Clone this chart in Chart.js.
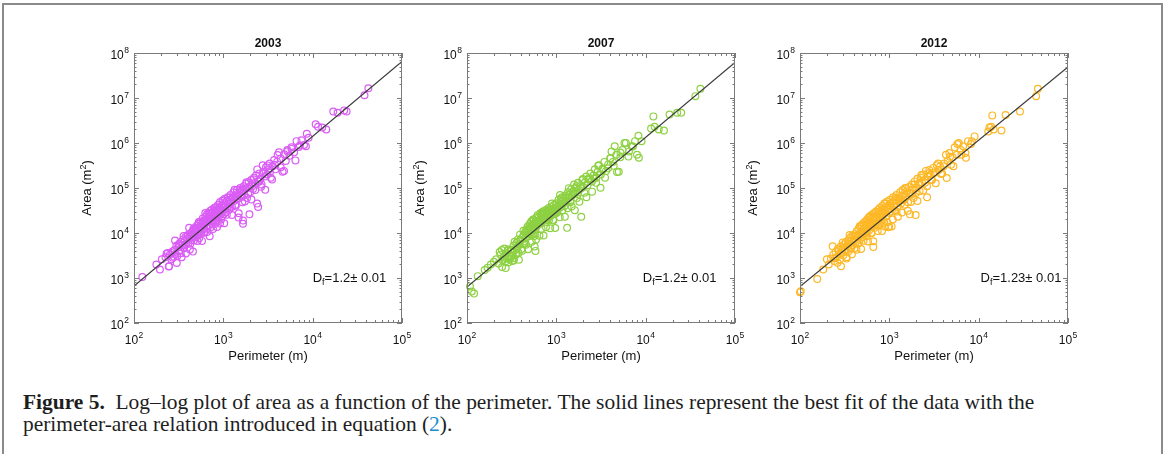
<!DOCTYPE html>
<html>
<head>
<meta charset="utf-8">
<script src="https://cdn.jsdelivr.net/npm/chart.js@4.4.1/dist/chart.umd.min.js"></script>
<style>
  body { margin: 0; background: #fff; width: 1165px; height: 454px; overflow: hidden; position: relative; }
  #frame { position: absolute; left: 2px; top: 3px; width: 1157px; height: 460px; border: 2px solid #8a8a8a; border-bottom: none; }
  canvas { position: absolute; top: 20px; }
  #caption { position: absolute; left: 23px; top: 391px; font-family: "Liberation Serif", "DejaVu Serif", serif; font-size: 17.5px; line-height: 22px; color: #1e1e1e; white-space: nowrap; }
  #caption b { font-weight: bold; }
  #caption .ref { color: #1a8ccf; }
</style>
</head>
<body>
<div id="frame"></div>
<canvas id="c2003" width="342" height="350" style="left:72px"></canvas>
<canvas id="c2007" width="342" height="350" style="left:405px"></canvas>
<canvas id="c2012" width="342" height="350" style="left:738px"></canvas>
<div id="caption"><span id="line1"><b>Figure 5.</b>&nbsp; Log–log plot of area as a function of the perimeter. The solid lines represent the best fit of the data with the</span><br>perimeter-area relation introduced in equation (<span class="ref">2</span>).</div>
<script>
// panel titles and fit labels
const years = ['2003', '2007', '2012'];
const dfLabels = ['1.2', '1.2', '1.23'];
const colors = ['#DA5CF5', '#8DD142', '#FDB827'];

// tick exponents (10^n)
const xTickExps = [2, 3, 4, 5];
const yTickExps = [2, 3, 4, 5, 6, 7, 8];

// [perimeter (m), area (m2)]
const pts2003 = [
  [124,1050],[178,2000],[195,1550],[205,2600],[225,2900],[240,3600],[245,1800],[252,3300],[262,2600],[270,3900],
  [278,3000],[285,4200],[290,3400],[298,5200],[305,3100],[312,4800],[320,5800],[328,4200],[335,6300],[342,2900],
  [350,5400],[355,7200],[362,4600],[370,6600],[378,8200],[385,5600],[392,7400],[400,9000],[408,6000],[415,8300],
  [422,4300],[430,9500],[438,7000],[445,10500],[452,8200],[460,12000],[468,6800],[475,9800],[482,13000],[490,8000],
  [498,11000],[505,14500],[512,9200],[520,12500],[528,16000],[535,7600],[542,11000],[550,14000],[558,18000],[565,10000],
  [572,13000],[580,16500],[588,21000],[595,12000],[602,15000],[610,19000],[618,10500],[625,17000],[632,23000],[640,14000],
  [648,19500],[655,26000],[662,12500],[670,17500],[678,22000],[685,28000],[692,15000],[700,20000],[708,31000],[715,24000],
  [722,13500],[730,18000],[738,27000],[745,33000],[752,21000],[760,15500],[768,25000],[775,30000],[782,19000],[790,36000],
  [798,24000],[805,28000],[812,16000],[820,32000],[828,22000],[835,38000],[842,27000],[850,19500],[858,30000],[865,25000],
  [872,42000],[880,34000],[888,23000],[895,29000],[905,36000],[915,48000],[925,27000],[935,32000],[945,20000],[955,40000],
  [965,30000],[975,52000],[985,36000],[1000,44000],[1010,26000],[1025,33000],[1040,58000],[1055,40000],[1070,29000],[1085,50000],
  [1100,36000],[1120,62000],[1140,45000],[1160,33000],[1180,55000],[1200,70000],[1225,48000],[1250,38000],[1275,62000],[1300,80000],
  [1330,52000],[1360,42000],[1390,72000],[1420,90000],[1450,58000],[1480,22000],[1510,78000],[1540,100000],[1570,65000],[1600,85000],
  [1630,48000],[1660,16000],[1660,19000],[1690,110000],[1720,72000],[1760,95000],[1800,125000],[1840,60000],[1880,100000],[1920,135000],
  [1960,26000],[2000,80000],[2050,150000],[2100,110000],[2150,95000],[2200,170000],[2260,130000],[2320,190000],[2390,45000],[2450,38000],
  [2460,140000],[2530,210000],[2600,160000],[2680,120000],[2760,320000],[2840,230000],[2920,180000],[3000,290000],[3100,200000],[3200,250000],
  [3300,350000],[3400,170000],[3550,300000],[3700,420000],[3850,260000],[4000,380000],[4200,620000],[4400,450000],[4600,230000],[4800,560000],
  [5000,400000],[5200,700000],[5500,520000],[5800,800000],[6200,620000],[6600,1100000],[7000,820000],[7500,1150000],[8000,900000],[8600,1600000],
  [9000,1300000],[10800,2600000],[11500,2300000],[12800,2200000],[14200,2000000],[17000,5000000],[19000,4700000],[22500,5300000],[24000,5000000],
  [38000,11500000],[42000,16500000]
];
const more2003 = [
  [232,3500],[247,1830],[263,3610],[271,2810],[288,6810],[301,2160],[316,5370],[333,3530],[341,5190],[359,8550],
  [372,5340],[381,3510],[397,8800],[414,13000],[428,5740],[439,8270],[457,3860],[466,12600],[483,8630],[499,11700],
  [514,6630],[531,17600],[546,9430],[559,13200],[577,6680],[593,17960],[611,10100],[628,27900],[647,14400],[661,10500],
  [683,20200],[704,8470],[719,27800],[741,18400],[766,12300],[779,23500],[803,36600],[829,18000],[851,13600],[877,33600],
  [896,33300],[918,16200],[947,30300],[971,23500],[996,53500],[1024,16500],[1061,40200],[1093,25400],[1127,37800],[1168,60700],
  [1203,37600],[1246,25100],[1288,62300],[1337,91400],[1381,40200],[1429,58800],[1487,27400],[1543,92200],[1611,64000],[1677,88100],
  [1742,50400],[1813,135000],[1897,74700],[1981,108000],[2064,55500],[2173,156000],[2281,90600],[2398,259000],[2512,137000],[2647,106000],
  [2788,210000],[2943,91400],[3121,318000],[3307,221000],[3512,154000],[3788,326000],[4047,538000],[4391,288000],[4778,240000],[5216,652000],
  [5790,740000],[6420,411000],[7200,883000],[8400,847000]
];
const pts2007 = [
  [108,650],[113,500],[120,450],[132,1100],[158,1500],[170,1700],[185,2000],[200,2300],[212,2600],[225,2100],
  [238,3300],[245,4200],[250,2500],[258,3000],[262,4500],[268,2300],[275,3600],[280,2700],[285,4000],[290,2200],
  [296,3200],[302,2600],[308,4300],[315,3000],[320,2400],[326,3700],[332,5200],[338,2800],[345,4200],[352,3300],
  [358,6000],[365,4600],[372,7200],[378,3600],[385,5600],[392,9200],[400,6800],[408,4400],[415,7800],[422,5800],
  [430,9000],[440,6500],[448,10500],[455,8000],[462,12000],[470,9500],[478,14000],[485,11000],[492,8500],[500,13000],
  [506,16000],[512,10000],[518,12500],[524,18000],[530,9000],[536,14500],[542,11500],[548,20000],[554,13000],[560,8500],
  [566,16000],[572,5000],[578,12000],[584,4000],[590,18500],[596,22000],[602,14000],[610,17000],[620,25000],[630,19000],
  [640,23000],[650,16000],[660,27000],[670,20000],[680,24000],[690,29000],[700,18500],[712,26000],[724,31000],[736,22000],
  [748,28000],[760,17500],[772,33000],[784,25000],[796,30000],[808,21000],[820,36000],[835,27000],[850,32000],[865,24000],
  [880,38000],[895,29000],[910,34000],[925,19000],[940,42000],[955,31000],[970,36000],[985,27000],[1000,46000],[1020,38000],
  [1040,33000],[1060,55000],[1080,43000],[1100,70000],[1120,38000],[1140,50000],[1160,62000],[1180,45000],[1200,58000],[1230,40000],
  [1260,68000],[1290,52000],[1320,13000],[1350,80000],[1380,60000],[1410,72000],[1440,48000],[1470,95000],[1500,68000],[1540,85000],
  [1580,120000],[1620,75000],[1660,100000],[1700,60000],[1750,130000],[1800,90000],[1850,110000],[1900,23000],[1950,150000],[2000,105000],
  [2080,130000],[2160,180000],[2240,115000],[2320,160000],[2400,210000],[2500,140000],[2600,190000],[2700,260000],[2800,170000],[2900,230000],
  [3000,320000],[3150,200000],[3300,270000],[3450,380000],[3600,240000],[3800,330000],[4000,450000],[4150,650000],[4300,380000],[4500,850000],
  [4700,550000],[5000,230000],[5200,480000],[5500,700000],[6000,1000000],[6500,650000],[7000,850000],[7600,1100000],[8000,550000],[8300,1450000],
  [9000,1100000],[11500,2100000],[12200,3900000],[12600,2300000],[14000,2000000],[16000,1900000],[18500,4300000],[22500,4700000],[25000,4700000],
  [36000,11000000],[41000,16000000]
];
const more2007 = [
  [232,3780],[247,1750],[263,2680],[271,1660],[288,4300],[301,2990],[316,4180],[333,2450],[341,6400],[359,3570],
  [372,5110],[381,2550],[397,7010],[414,4040],[428,11200],[439,5730],[457,5460],[466,10300],[483,4340],[499,14500],
  [514,9600],[531,6400],[546,12500],[559,19200],[577,9460],[593,7170],[611,17700],[628,17700],[647,8680],[661,16000],
  [683,12500],[704,28800],[719,8810],[741,21200],[766,13500],[779,19600],[803,31200],[829,19400],[851,12800],[877,31500],
  [896,45100],[918,19600],[947,28400],[971,12900],[996,42700],[1024,28900],[1061,39500],[1093,22300],[1127,58900],[1168,32000],
  [1203,45400],[1246,23000],[1288,62500],[1337,35700],[1381,99200],[1429,51400],[1487,38900],[1543,75300],[1611,32200],[1677,109000],
  [1742,73200],[1813,49400],[1897,99000],[1981,158000],[2064,78900],[2173,62300],[2281,158000],[2398,164000],[2512,83000],[2647,161000],
  [2788,130000],[2943,311000],[3121,101000],[3307,256000],[3512,170000],[3788,273000],[4047,461000],[4391,311000],[4778,226000],[5216,612000],
  [5790,1006000],[6420,498000],[7200,831000],[8400,469000]
];
const pts2012 = [
  [100,480],[102,510],[156,950],[182,1550],[200,2600],[210,2000],[222,2700],[235,3300],[242,2400],[250,3800],
  [258,2900],[265,4400],[272,3400],[280,2600],[286,5000],[293,3900],[300,4600],[306,3200],[312,5600],[318,4200],
  [325,6200],[332,2700],[338,5000],[345,6800],[352,4000],[358,5800],[365,7800],[372,4800],[378,6600],[385,8800],
  [392,5400],[400,7200],[408,4600],[415,9500],[422,6400],[430,11000],[438,8000],[445,5800],[452,12500],[460,9000],
  [468,7000],[475,13500],[482,10000],[490,15000],[498,8200],[505,11800],[512,16500],[520,9500],[528,13000],[535,18000],
  [542,11000],[550,14500],[558,8500],[565,20000],[572,12500],[580,16500],[588,22000],[595,11500],[602,15000],[610,24000],
  [618,13500],[625,18500],[632,10000],[640,21000],[648,26000],[655,15500],[662,4900],[670,19500],[678,28000],[685,13000],
  [692,23000],[700,17000],[710,30000],[720,21000],[730,26000],[740,14500],[750,33000],[760,19000],[770,24000],[780,36000],
  [790,22000],[800,28000],[810,17000],[820,32000],[830,40000],[840,25000],[850,20000],[860,35000],[870,29000],[880,45000],
  [890,14000],[900,31000],[915,38000],[930,24000],[945,50000],[960,33000],[975,13500],[990,42000],[1005,28000],[1020,55000],
  [1040,36000],[1060,14000],[1080,48000],[1100,62000],[1120,40000],[1140,32000],[1160,56000],[1180,45000],[1200,70000],[1230,38000],
  [1260,60000],[1290,50000],[1320,80000],[1350,45000],[1380,66000],[1410,90000],[1440,55000],[1470,75000],[1500,100000],[1540,65000],
  [1580,85000],[1620,48000],[1660,105000],[1700,26000],[1740,75000],[1780,120000],[1820,92000],[1870,60000],[1920,140000],[1970,25000],
  [2000,100000],[2060,160000],[2120,120000],[2180,85000],[2250,170000],[2320,130000],[2400,200000],[2480,150000],[2560,240000],[2640,110000],
  [2720,180000],[2800,250000],[2900,200000],[3000,150000],[3100,280000],[3250,220000],[3400,320000],[3550,250000],[3700,300000],[3900,210000],
  [4100,350000],[4300,550000],[4500,400000],[4700,600000],[4900,330000],[5100,480000],[5400,800000],[5700,550000],[6000,1000000],[6300,700000],
  [6700,850000],[7100,600000],[7600,1100000],[8200,950000],[9000,1400000],[12800,1800000],[13200,2200000],[13800,2300000],[14200,4100000],
  [14700,2000000],[18000,1900000],[20000,4200000],[29000,5000000],[44000,11000000],[46000,16000000]
];
const more2012 = [
  [232,5090],[247,2760],[263,2170],[271,4140],[288,1820],[301,6180],[316,4220],[333,2900],[341,5610],[359,9020],
  [372,4470],[381,3370],[397,8440],[414,8630],[428,4260],[439,7900],[457,6250],[466,14100],[483,4410],[499,10700],
  [514,6740],[531,10000],[546,15900],[559,9730],[577,6460],[593,15800],[611,22900],[628,10000],[647,14500],[661,6550],
  [683,21800],[704,14800],[719,19800],[741,11100],[766,29500],[779,15600],[803,22100],[829,11100],[851,29800],[877,16800],
  [896,45800],[918,23300],[947,17400],[971,32900],[996,13700],[1024,45200],[1061,30200],[1093,20000],[1127,39200],[1168,61400],
  [1203,30100],[1246,23100],[1288,57200],[1337,58000],[1381,28600],[1429,53800],[1487,42500],[1543,98800],[1611,31300],[1677,76500],
  [1742,49000],[1813,73900],[1897,120000],[1981,76100],[2064,51300],[2173,131000],[2281,195000],[2398,88400],[2512,131000],[2647,62500],
  [2788,215000],[2943,152000],[3121,215000],[3307,127000],[3512,351000],[3788,204000],[4047,306000],[4391,167000],[4778,493000],[5216,305000],
  [5790,952000],[6420,551000],[7200,470000],[8400,1100000]
];

// best fit lines, end points at the axis limits
const fit2003 = [[100, 660], [100000, 6.5e7]];
const fit2007 = [[100, 630], [100000, 6.2e7]];
const fit2012 = [[100, 650], [100000, 4.9e7]];

// where the D_f label sits (left edge, baseline) in data units
const dfPos = [[1.0e4, 800], [9.3e3, 800], [1.05e4, 800]];

const FONT = '"Liberation Sans", Arial, sans-serif';
const INK = '#111';
const AXIS = '#7a7a7a';

function powLabel(ctx, exp, x, y, align) {
  ctx.font = '12px ' + FONT;
  const w1 = ctx.measureText('10').width;
  ctx.font = '8.5px ' + FONT;
  const w2 = ctx.measureText(String(exp)).width;
  const total = w1 + w2 + 0.5;
  const start = align === 'right' ? x - total : x - total / 2;
  ctx.textAlign = 'left';
  ctx.font = '12px ' + FONT;
  ctx.fillText('10', start, y);
  ctx.font = '8.5px ' + FONT;
  ctx.fillText(String(exp), start + w1 + 0.5, y - 6);
}

const matlabAxes = {
  id: 'matlabAxes',
  afterDraw(chart, args, opts) {
    const ctx = chart.ctx;
    const a = chart.chartArea;
    const xs = chart.scales.x, ys = chart.scales.y;
    ctx.save();
    // box
    ctx.strokeStyle = AXIS;
    ctx.lineWidth = 1;
    ctx.strokeRect(a.left + 0.5, a.top + 0.5, a.right - a.left - 1, a.bottom - a.top - 1);
    // ticks, inward on all four sides
    ctx.beginPath();
    xTickExps.forEach(e => {
      for (let m = 1; m <= 9; m++) {
        if (e === xTickExps[xTickExps.length - 1] && m > 1) break;
        const px = Math.round(xs.getPixelForValue(m * Math.pow(10, e))) + 0.5;
        const len = m === 1 ? 5 : 3;
        ctx.moveTo(px, a.bottom); ctx.lineTo(px, a.bottom - len);
        ctx.moveTo(px, a.top); ctx.lineTo(px, a.top + len);
      }
    });
    yTickExps.forEach(e => {
      for (let m = 1; m <= 9; m++) {
        if (e === yTickExps[yTickExps.length - 1] && m > 1) break;
        const py = Math.round(ys.getPixelForValue(m * Math.pow(10, e))) + 0.5;
        const len = m === 1 ? 5 : 2.5;
        ctx.moveTo(a.left, py); ctx.lineTo(a.left + len, py);
        ctx.moveTo(a.right, py); ctx.lineTo(a.right - len, py);
      }
    });
    ctx.stroke();

    // tick labels
    ctx.fillStyle = INK;
    xTickExps.forEach(e => {
      powLabel(ctx, e, xs.getPixelForValue(Math.pow(10, e)), a.bottom + 21, 'center');
    });
    yTickExps.forEach(e => {
      powLabel(ctx, e, a.left - 5, ys.getPixelForValue(Math.pow(10, e)) + 6, 'right');
    });

    const cx = (a.left + a.right) / 2, cy = (a.top + a.bottom) / 2;
    // title
    ctx.font = 'bold 12px ' + FONT;
    ctx.textAlign = 'center';
    ctx.fillText(opts.title, cx, a.top - 6);
    // x axis title
    ctx.font = '13px ' + FONT;
    ctx.fillText('Perimeter (m)', cx, a.bottom + 37);
    // y axis title with superscript
    ctx.save();
    ctx.translate(a.left - 43, cy);
    ctx.rotate(-Math.PI / 2);
    ctx.font = '13px ' + FONT;
    const t1 = 'Area (m', t3 = ')';
    const w1 = ctx.measureText(t1).width, w3 = ctx.measureText(t3).width;
    ctx.font = '9px ' + FONT;
    const w2 = ctx.measureText('2').width;
    let sx = -(w1 + w2 + w3) / 2;
    ctx.textAlign = 'left';
    ctx.font = '13px ' + FONT;
    ctx.fillText(t1, sx, 0);
    ctx.font = '9px ' + FONT;
    ctx.fillText('2', sx + w1, -5);
    ctx.font = '13px ' + FONT;
    ctx.fillText(t3, sx + w1 + w2, 0);
    ctx.restore();

    // D_f annotation
    let dx = xs.getPixelForValue(opts.dfAt[0]);
    const dy = ys.getPixelForValue(opts.dfAt[1]);
    ctx.textAlign = 'left';
    ctx.font = '13px ' + FONT;
    ctx.fillText('D', dx, dy);
    dx += ctx.measureText('D').width;
    ctx.font = '9px ' + FONT;
    ctx.fillText('f', dx, dy + 3);
    dx += ctx.measureText('f').width;
    ctx.font = '13px ' + FONT;
    ctx.fillText('=' + opts.df + '\u00b1 0.01', dx, dy);
    ctx.restore();
  }
};

const allPts = [pts2003.concat(more2003), pts2007.concat(more2007), pts2012.concat(more2012)];
const allFits = [fit2003, fit2007, fit2012];

years.forEach((yr, i) => {
  new Chart(document.getElementById('c' + yr), {
    type: 'scatter',
    data: {
      datasets: [
        {
          data: allFits[i].map(([x, y]) => ({ x, y })),
          showLine: true,
          borderColor: '#3a3a3a',
          borderWidth: 1.2,
          pointRadius: 0
        },
        {
          data: allPts[i].map(([x, y]) => ({ x, y })),
          pointStyle: 'circle',
          pointRadius: 3.4,
          pointBorderWidth: 1.2,
          pointBorderColor: colors[i],
          pointBackgroundColor: 'rgba(0,0,0,0)',
          clip: 6
        }
      ]
    },
    options: {
      responsive: false,
      animation: false,
      layout: { padding: { left: 62, right: 12, top: 33, bottom: 47 } },
      plugins: {
        legend: { display: false },
        tooltip: { enabled: false },
        matlabAxes: { title: yr, df: dfLabels[i], dfAt: dfPos[i] }
      },
      scales: {
        x: { type: 'logarithmic', min: 100, max: 100000, display: false },
        y: { type: 'logarithmic', min: 100, max: 100000000, display: false }
      }
    },
    plugins: [matlabAxes]
  });
});

// fit the caption's first line to the reference width
const cap = document.getElementById('caption');
const w = document.getElementById('line1').getBoundingClientRect().width;
cap.style.fontSize = (17.5 * 1012 / w).toFixed(2) + 'px';
</script>
</body>
</html>
